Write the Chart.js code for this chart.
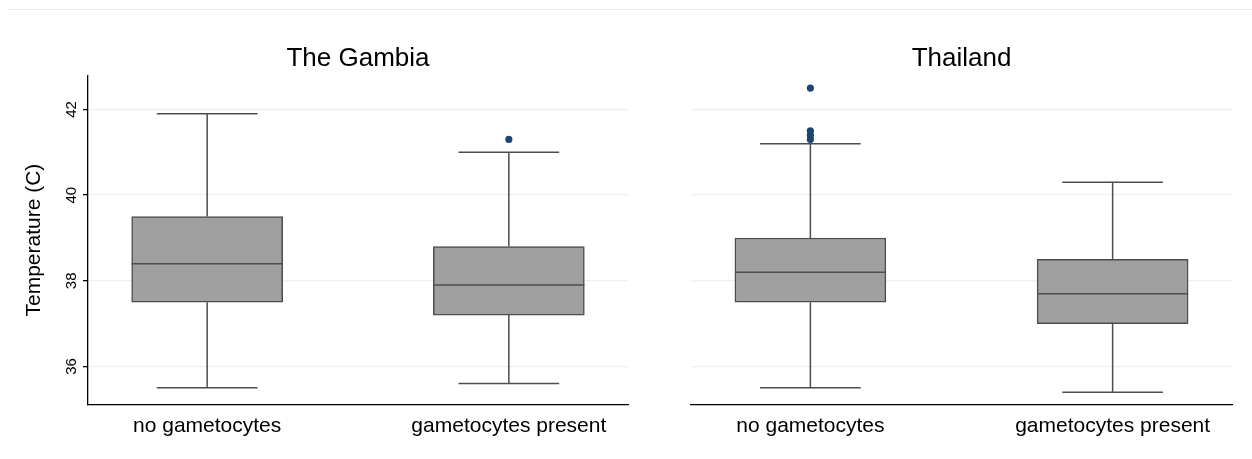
<!DOCTYPE html>
<html>
<head>
<meta charset="utf-8">
<script src="https://cdn.jsdelivr.net/npm/chart.js@4.4.1/dist/chart.umd.min.js"></script>
<style>
	html, body { margin: 0; padding: 0; background: #fff; }
	#wrap { position: relative; width: 1252px; height: 459px; overflow: hidden; }
	#frame { position: absolute; left: 9px; top: 9px; width: 1250px; border-top: 1px solid #e6eeee; }
	#gambia { position: absolute; left: 0; top: 0; }
	#thailand { position: absolute; left: 640px; top: 0; }
</style>
</head>
<body>
<div id="wrap">
	<div id="frame"></div>
	<canvas id="gambia" width="640" height="459"></canvas>
	<canvas id="thailand" width="612" height="459"></canvas>
</div>
<script>
const groups = ['no gametocytes', 'gametocytes present'];
const yTicks = [36, 38, 40, 42];

// The Gambia
const gambiaLow = [35.5, 35.6];
const gambiaQ1 = [37.5, 37.2];
const gambiaMedian = [38.4, 37.9];
const gambiaQ3 = [39.5, 38.8];
const gambiaHigh = [41.9, 41.0];
const gambiaOutliers = [[], [41.3]];

// Thailand
const thailandLow = [35.5, 35.4];
const thailandQ1 = [37.5, 37.0];
const thailandMedian = [38.2, 37.7];
const thailandQ3 = [39.0, 38.5];
const thailandHigh = [41.2, 40.3];
const thailandOutliers = [[41.3, 41.4, 41.5, 42.5], []];

const FontFamily = 'Liberation Sans, Arial, Helvetica, sans-serif';
const BoxWidth = 151;
const LineColor = '#4d4d4d';

Chart.defaults.font.family = FontFamily;
Chart.defaults.color = '#000';

// whiskers behind the boxes, median on top of them
const boxWhiskers = {
	id: 'boxWhiskers',
	beforeDatasetsDraw(chart, args, opts) {
		const { ctx, scales: { x, y } } = chart;
		ctx.save();
		ctx.strokeStyle = LineColor;
		ctx.lineWidth = 1.5;
		opts.low.forEach((lo, i) => {
			const px = x.getPixelForValue(i);
			const half = BoxWidth / 3;
			ctx.beginPath();
			ctx.moveTo(px, y.getPixelForValue(lo));
			ctx.lineTo(px, y.getPixelForValue(opts.q1[i]));
			ctx.moveTo(px, y.getPixelForValue(opts.q3[i]));
			ctx.lineTo(px, y.getPixelForValue(opts.high[i]));
			ctx.moveTo(px - half, y.getPixelForValue(lo));
			ctx.lineTo(px + half, y.getPixelForValue(lo));
			ctx.moveTo(px - half, y.getPixelForValue(opts.high[i]));
			ctx.lineTo(px + half, y.getPixelForValue(opts.high[i]));
			ctx.stroke();
		});
		ctx.restore();
	},
	afterDatasetDraw(chart, args, opts) {
		if (args.index !== 0) return;
		const { ctx, scales: { x, y } } = chart;
		ctx.save();
		ctx.strokeStyle = LineColor;
		ctx.lineWidth = 1.5;
		opts.median.forEach((m, i) => {
			const px = x.getPixelForValue(i);
			const py = y.getPixelForValue(m);
			ctx.beginPath();
			ctx.moveTo(px - BoxWidth / 2, py);
			ctx.lineTo(px + BoxWidth / 2, py);
			ctx.stroke();
		});
		ctx.restore();
	}
};

const makeChart = (canvasId, title, stats, isFirst) => {
	const boxes = groups.map((g, i) => ({ x: i, y: [stats.q1[i], stats.q3[i]] }));
	const points = [];
	stats.outliers.forEach((list, i) => list.forEach(v => points.push({ x: i, y: v })));

	return new Chart(document.getElementById(canvasId), {
		data: {
			datasets: [
				{
					type: 'bar',
					data: boxes,
					backgroundColor: '#a0a0a0',
					borderColor: LineColor,
					borderWidth: 1.5,
					borderSkipped: false,
					barThickness: BoxWidth,
					order: 2
				},
				{
					type: 'scatter',
					data: points,
					backgroundColor: '#1a476f',
					borderWidth: 0,
					pointRadius: 3.6,
					order: 1
				}
			]
		},
		options: {
			responsive: false,
			animation: false,
			devicePixelRatio: 1,
			layout: { padding: { left: isFirst ? 18 : 0, right: isFirst ? 12 : 20, top: 43, bottom: 0 } },
			plugins: {
				legend: { display: false },
				tooltip: { enabled: false },
				title: {
					display: true,
					fullSize: false, // centre it over the plot area
					text: title,
					color: '#000',
					font: { size: 26, weight: 'normal' },
					padding: { top: 0, bottom: 1 }
				},
				boxWhiskers: stats
			},
			scales: {
				x: {
					type: 'linear',
					offset: false,
					min: -0.395,
					max: 1.395,
					afterBuildTicks: (scale) => { scale.ticks = groups.map((g, i) => ({ value: i })); },
					afterFit: (scale) => { scale.height = 54; },
					grid: { display: false, drawTicks: false },
					border: { display: true, color: '#000', width: 1.3 },
					ticks: {
						autoSkip: false,
						maxRotation: 0,
						padding: 9,
						color: '#000',
						font: { size: 21 },
						callback: (v) => groups[v]
					}
				},
				y: {
					min: 35.1,
					max: 42.8,
					afterBuildTicks: (scale) => { scale.ticks = yTicks.map(v => ({ value: v })); },
					afterFit: (scale) => { scale.width = isFirst ? 70 : 51; },
					grid: { color: '#eaf1f1', lineWidth: 1.3, drawTicks: isFirst, tickLength: 5, tickColor: '#000' },
					border: { display: isFirst, color: '#000', width: 1.3 },
					ticks: {
						display: isFirst,
						minRotation: 90,
						maxRotation: 90,
						crossAlign: 'center',
						padding: 3,
						color: '#000',
						font: { size: 15 }
					},
					title: {
						display: isFirst,
						text: 'Temperature (C)',
						color: '#000',
						font: { size: 21 }
					}
				}
			}
		},
		plugins: [boxWhiskers]
	});
};

makeChart('gambia', 'The Gambia', {
	low: gambiaLow, q1: gambiaQ1, median: gambiaMedian, q3: gambiaQ3, high: gambiaHigh, outliers: gambiaOutliers
}, true);

makeChart('thailand', 'Thailand', {
	low: thailandLow, q1: thailandQ1, median: thailandMedian, q3: thailandQ3, high: thailandHigh, outliers: thailandOutliers
}, false);
</script>
</body>
</html>
